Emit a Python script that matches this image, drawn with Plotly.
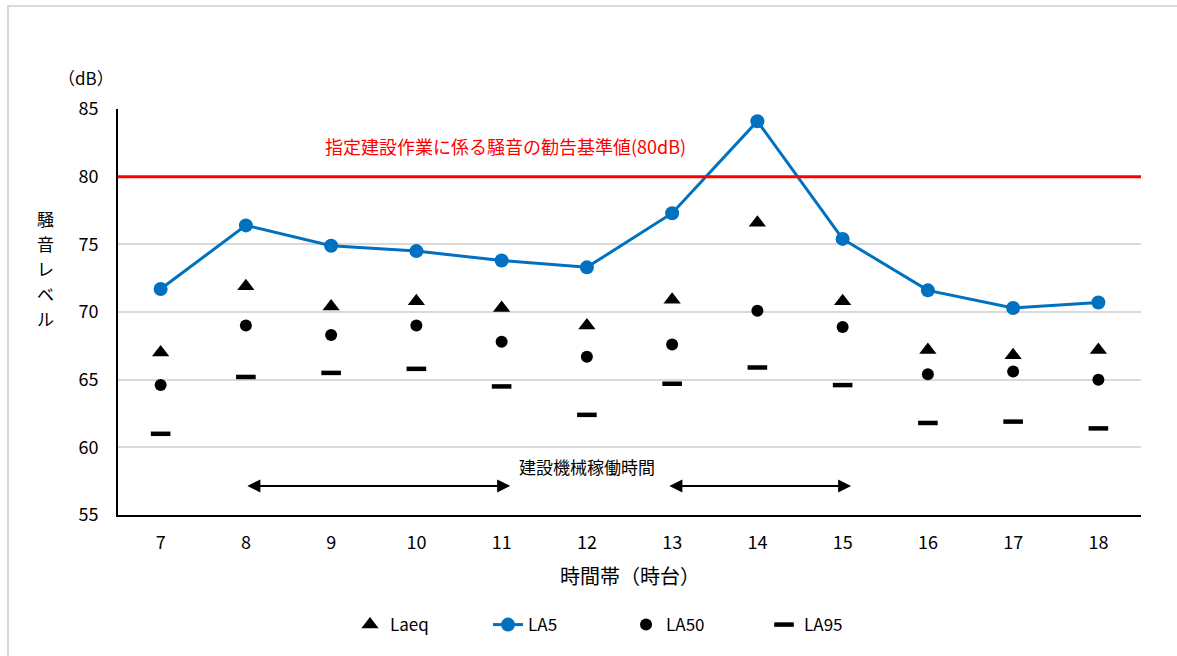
import plotly.graph_objects as go

hours = [7, 8, 9, 10, 11, 12, 13, 14, 15, 16, 17, 18]
laeq = [67.0, 71.9, 70.4, 70.8, 70.3, 69.0, 70.9, 76.6, 70.8, 67.2, 66.8, 67.2]
la5 = [71.7, 76.4, 74.9, 74.5, 73.8, 73.3, 77.3, 84.1, 75.4, 71.6, 70.3, 70.7]
la50 = [64.6, 69.0, 68.3, 69.0, 67.8, 66.7, 67.6, 70.1, 68.9, 65.4, 65.6, 65.0]
la95 = [61.0, 65.2, 65.5, 65.8, 64.5, 62.4, 64.7, 65.9, 64.6, 61.8, 61.9, 61.4]
limit_db = 80
limit_text = "指定建設作業に係る騒音の勧告基準値(80dB)"
work_periods = [(8, 11.1), (12.95, 15.1)]
work_text = "建設機械稼働時間"
y_ticks = [55, 60, 65, 70, 75, 80, 85]
y_title_chars = ["騒", "音", "レ", "ベ", "ル"]

FONT = "Noto Sans CJK JP"
fig = go.Figure()
fig.add_trace(go.Scatter(x=hours, y=laeq, name="Laeq", mode="markers",
                         marker=dict(symbol="triangle-up", size=15, color="black")))
fig.add_trace(go.Scatter(x=hours, y=la5, name="LA5", mode="lines+markers",
                         line=dict(color="#0070C0", width=3),
                         marker=dict(symbol="circle", size=14, color="#0070C0")))
fig.add_trace(go.Scatter(x=hours, y=la50, name="LA50", mode="markers",
                         marker=dict(symbol="circle", size=12, color="black")))
fig.add_trace(go.Scatter(x=hours, y=la95, name="LA95", mode="markers",
                         marker=dict(symbol="line-ew", size=14, color="black",
                                     line=dict(color="black", width=4.5))))

fig.add_shape(type="line", xref="paper", yref="y", x0=0, x1=1, y0=limit_db, y1=limit_db,
              line=dict(color="#FF0000", width=3), layer="above")

fig.add_annotation(x=11.04, y=limit_db + 2.3, xref="x", yref="y", text=limit_text,
                   showarrow=False, xanchor="center", yanchor="middle",
                   font=dict(family=FONT, size=18, color="#FF0000"))

for x0, x1 in work_periods:
    fig.add_annotation(x=x1, y=57.15, ax=x0, ay=57.15, xref="x", yref="y",
                       axref="x", ayref="y", text="", showarrow=True,
                       arrowhead=2, arrowside="end+start", arrowsize=1.3,
                       arrowwidth=2, arrowcolor="black")
fig.add_annotation(x=12.0, y=58.6, xref="x", yref="y", text=work_text, showarrow=False,
                   xanchor="center", yanchor="middle",
                   font=dict(family=FONT, size=17, color="black"))

# y axis unit and titles
fig.add_annotation(x=-0.002, y=1.078, xref="paper", yref="paper", text="（dB）",
                   showarrow=False, xanchor="right", yanchor="middle",
                   font=dict(family=FONT, size=17, color="black"))
for i, ch in enumerate(y_title_chars):
    py = 218 + i * 25
    fig.add_annotation(x=-0.071, y=(515 - py) / 406, xref="paper", yref="paper",
                       text=ch, showarrow=False, xanchor="center", yanchor="middle",
                       font=dict(family=FONT, size=17, color="black"))
fig.add_annotation(x=0.5, y=-0.15, xref="paper", yref="paper", text="時間帯（時台）",
                   showarrow=False, xanchor="center", yanchor="middle",
                   font=dict(family=FONT, size=20, color="black"))

# outer border
fig.add_shape(type="rect", xref="paper", yref="paper",
              x0=-0.1075, x1=1.05, y0=-0.4, y1=1.2535,
              line=dict(color="#d9d9d9", width=2), layer="below")

fig.update_layout(
    width=1177, height=656,
    margin=dict(l=118, r=36, t=109, b=141),
    paper_bgcolor="white", plot_bgcolor="white",
    font=dict(family=FONT, size=18, color="black"),
    showlegend=True,
    legend=dict(orientation="h", x=0.2268, xanchor="left", y=-0.271, yanchor="middle",
                entrywidth=93, entrywidthmode="pixels",
                font=dict(family=FONT, size=17, color="black")),
)
fig.update_xaxes(range=[6.5, 18.5], tickvals=hours, ticktext=[str(h) for h in hours],
                 showgrid=False, showline=True, linecolor="black", linewidth=2,
                 ticks="", ticklabelstandoff=10, zeroline=False,
                 tickfont=dict(family=FONT, size=18))
fig.update_yaxes(range=[55, 85], tickvals=y_ticks, showgrid=True, gridcolor="#d9d9d9",
                 gridwidth=2, showline=True, linecolor="black", linewidth=2,
                 ticks="", ticklabelstandoff=14, zeroline=False,
                 tickfont=dict(family=FONT, size=18))

fig.write_html("out.html")
